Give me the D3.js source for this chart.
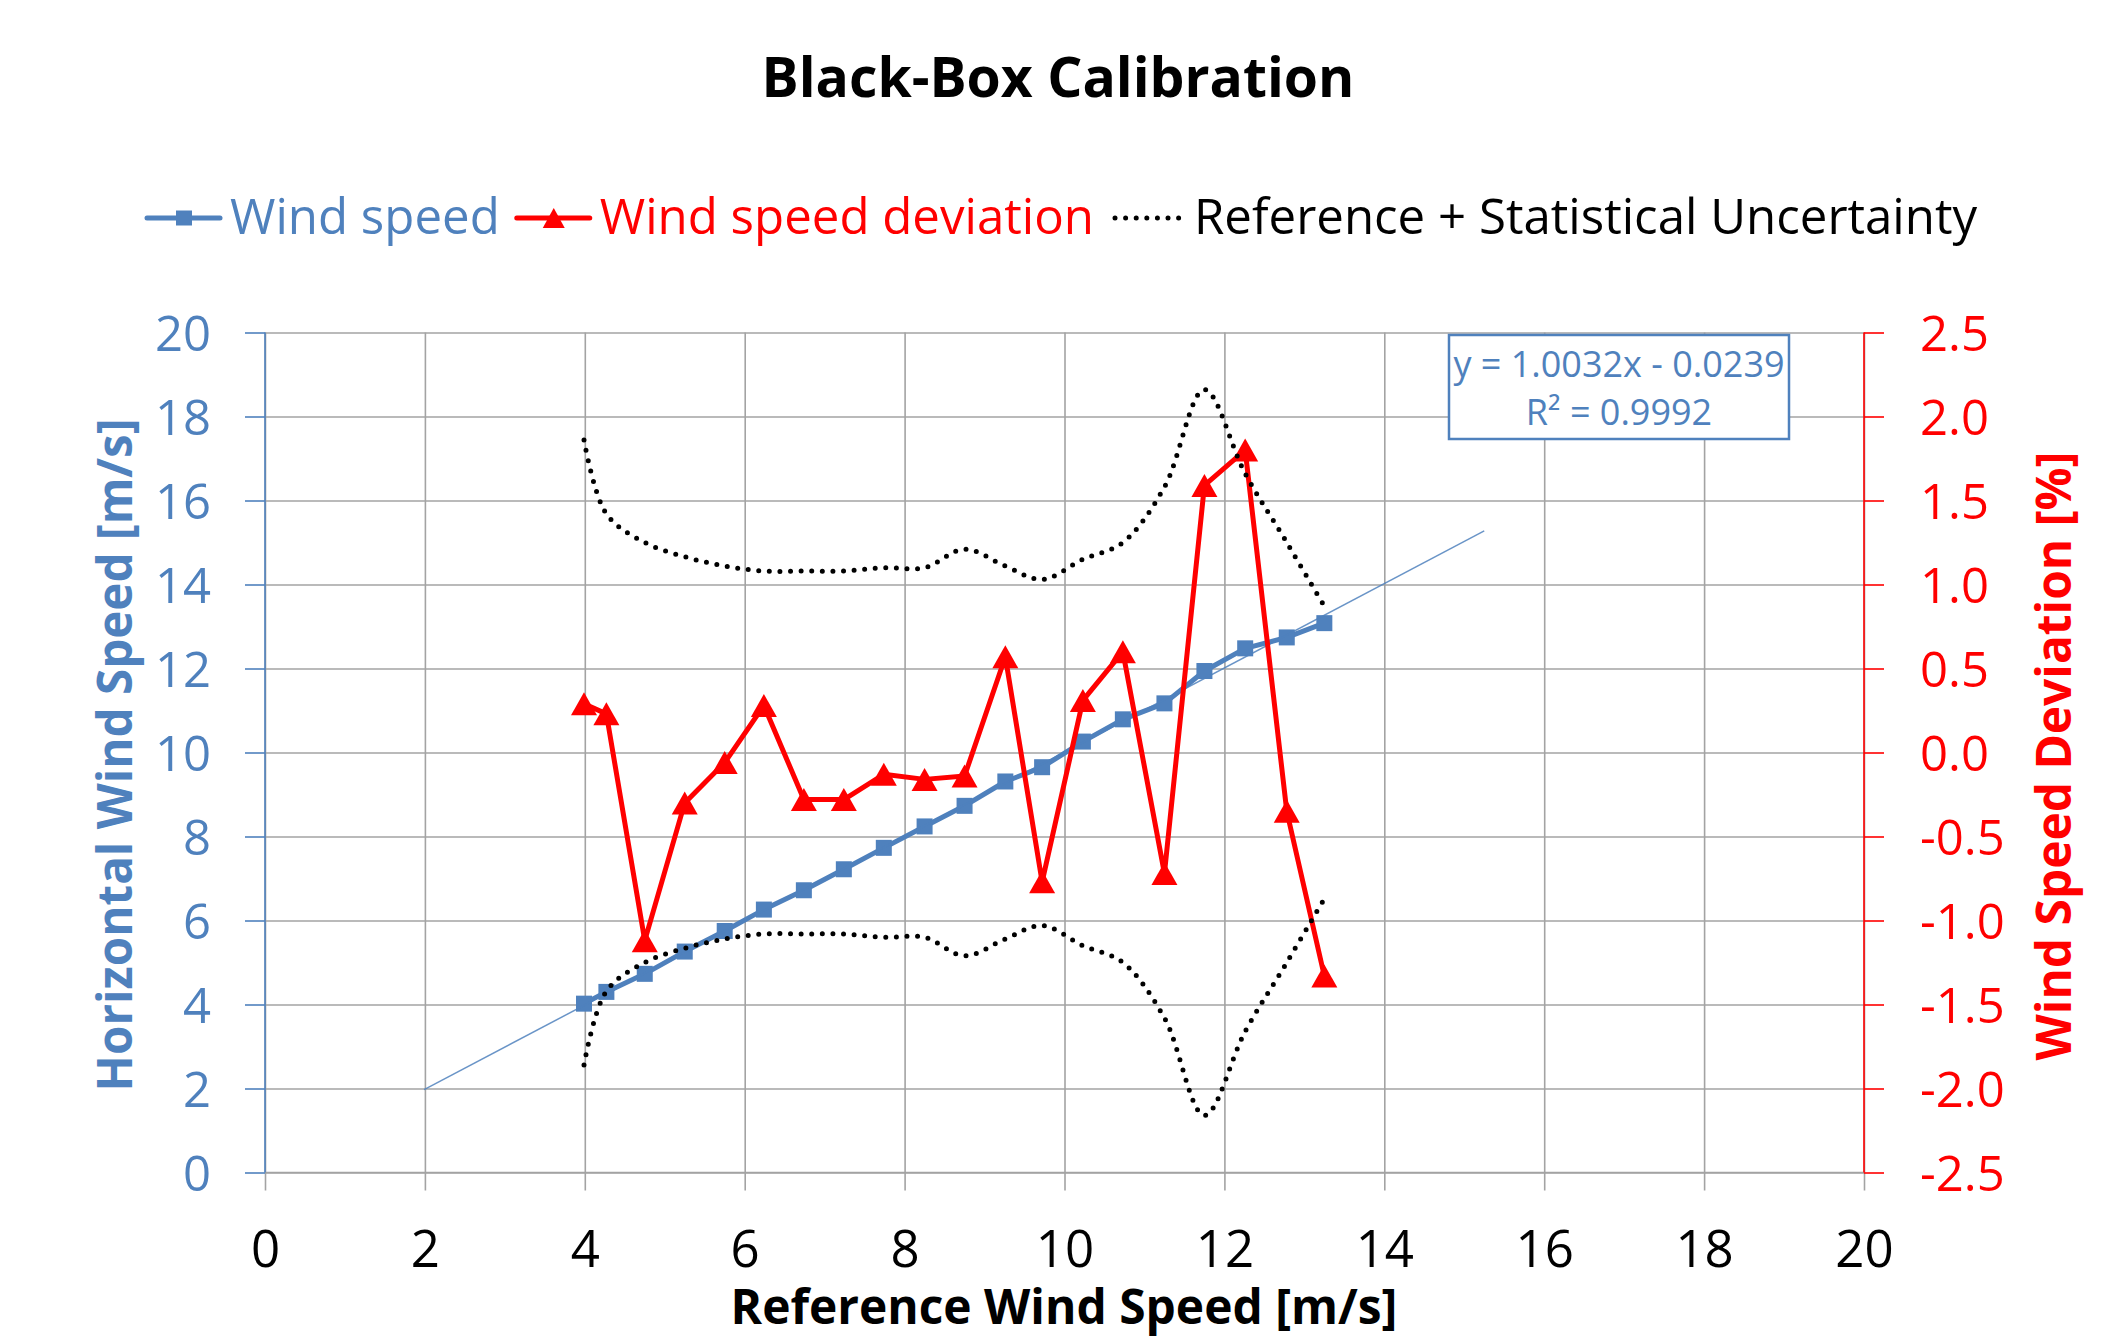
<!doctype html>
<html>
<head>
  <meta charset="utf-8">
  <script src="https://cdnjs.cloudflare.com/ajax/libs/d3/7.8.5/d3.min.js" type="text/JavaScript"></script>
  <style>
    body { margin: 0; background: #fff; }
    text { font-family: "Open Sans", sans-serif; }
  </style>
</head>
<body>
<svg height="1337" width="2118"></svg>
<script type="text/javascript">
// values
var refSpeed    = [3.99, 4.27, 4.75, 5.25, 5.75, 6.24, 6.74, 7.24, 7.74, 8.25, 8.75, 9.26, 9.72, 10.23, 10.73, 11.25, 11.75, 12.26, 12.78, 13.25];
var windSpeed   = [4.02, 4.30, 4.73, 5.26, 5.75, 6.26, 6.72, 7.22, 7.73, 8.24, 8.73, 9.31, 9.65, 10.26, 10.79, 11.17, 11.94, 12.48, 12.74, 13.08];
var deviation   = [0.29, 0.23, -1.12, -0.30, -0.06, 0.28, -0.28, -0.28, -0.13, -0.16, -0.14, 0.57, -0.77, 0.31, 0.60, -0.72, 1.59, 1.80, -0.35, -1.33];
var uncertainty = [1.86, 1.42, 1.25, 1.165, 1.11, 1.08, 1.08, 1.08, 1.10, 1.10, 1.21, 1.11, 1.03, 1.15, 1.25, 1.58, 2.16, 1.66, 1.25, 0.87];

var xTicks     = [0, 2, 4, 6, 8, 10, 12, 14, 16, 18, 20];
var leftTicks  = [0, 2, 4, 6, 8, 10, 12, 14, 16, 18, 20];
var rightTicks = [-2.5, -2.0, -1.5, -1.0, -0.5, 0.0, 0.5, 1.0, 1.5, 2.0, 2.5];

var trendSlope = 1.0032, trendIntercept = -0.0239, trendR2 = 0.9992, trendForecast = 2;

var legendLabels = ["Wind speed", "Wind speed deviation", "Reference + Statistical Uncertainty"];
var chartTitle = "Black-Box Calibration";
var xTitle = "Reference Wind Speed [m/s]";
var yLeftTitle = "Horizontal Wind Speed [m/s]";
var yRightTitle = "Wind Speed Deviation [%]";

var blue = "#4F81BD", red = "#FF0000", grid = "#A3A3A3";
var pLeft = 265, pRight = 1864, pTop = 332.5, pBottom = 1172.5;

var svg = d3.select("svg");
var x  = d3.scaleLinear().domain([0, 20]).range([pLeft, pRight]);
var yL = d3.scaleLinear().domain([0, 20]).range([pBottom, pTop]);
var yR = d3.scaleLinear().domain([-2.5, 2.5]).range([pBottom, pTop]);

var pts = refSpeed.map((r, i) => ({x: r, ws: windSpeed[i], dev: deviation[i], unc: uncertainty[i]}));

// plain hyphen minus like the original
var fmt1 = d => (d < 0 ? "-" : "") + Math.abs(d).toFixed(1);

function fitWidth(sel, target) {
  var w = sel.node().getComputedTextLength();
  var fs = parseFloat(sel.style("font-size"));
  sel.style("font-size", (fs * target / w) + "px");
}

// gridlines
svg.append("g")
   .attr("transform", "translate(" + pLeft + ",0)")
   .call(d3.axisLeft(yL).tickValues(leftTicks).tickSize(-(pRight - pLeft)).tickFormat(""))
   .call(g => g.select(".domain").remove())
   .selectAll("line").attr("stroke", grid).attr("stroke-width", 1.6);
svg.append("g")
   .attr("transform", "translate(0," + pBottom + ")")
   .call(d3.axisBottom(x).tickValues(xTicks).tickSize(-(pBottom - pTop)).tickFormat(""))
   .call(g => g.select(".domain").remove())
   .selectAll("line").attr("stroke", grid).attr("stroke-width", 1.6);

// bottom axis
var xa = svg.append("g")
   .attr("transform", "translate(0," + pBottom + ")")
   .call(d3.axisBottom(x).tickValues(xTicks).tickSize(18).tickPadding(40).tickFormat(d3.format("d")));
xa.select(".domain").attr("stroke", grid).attr("stroke-width", 1.6).attr("d", "M" + pLeft + ",0H" + pRight);
xa.selectAll("line").attr("stroke", grid).attr("stroke-width", 1.6);
xa.selectAll("text").attr("fill", "#000").style("font-size", "51px");

// left axis
var la = svg.append("g")
   .attr("transform", "translate(" + pLeft + ",0)")
   .call(d3.axisLeft(yL).tickValues(leftTicks).tickSize(20).tickPadding(34).tickFormat(d3.format("d")));
la.select(".domain").attr("stroke", blue).attr("stroke-width", 1.6).attr("d", "M0," + pTop + "V" + pBottom);
la.selectAll("line").attr("stroke", blue).attr("stroke-width", 1.6);
la.selectAll("text").attr("fill", blue).attr("dy", "0.36em").style("font-size", "49px");

// right axis
var ra = svg.append("g")
   .attr("transform", "translate(" + pRight + ",0)")
   .call(d3.axisRight(yR).tickValues(rightTicks).tickSize(20).tickPadding(36).tickFormat(fmt1));
ra.select(".domain").attr("stroke", red).attr("stroke-width", 1.6).attr("d", "M0," + pTop + "V" + pBottom);
ra.selectAll("line").attr("stroke", red).attr("stroke-width", 1.6);
ra.selectAll("text").attr("fill", red).attr("dy", "0.36em").style("font-size", "49px");

// wind speed series
svg.append("path").datum(pts)
   .attr("fill", "none").attr("stroke", blue).attr("stroke-width", 5).attr("stroke-linejoin", "round")
   .attr("d", d3.line().x(d => x(d.x)).y(d => yL(d.ws)));
svg.append("g").selectAll("rect").data(pts).enter().append("rect")
   .attr("x", d => x(d.x) - 8).attr("y", d => yL(d.ws) - 8)
   .attr("width", 16).attr("height", 16).attr("fill", blue);

// linear trendline
var tx = [d3.min(refSpeed) - trendForecast, d3.max(refSpeed) + trendForecast];
svg.append("path").datum(tx)
   .attr("fill", "none").attr("stroke", blue).attr("stroke-width", 1.5).attr("opacity", 0.85)
   .attr("d", d3.line().x(d => x(d)).y(d => yL(trendSlope * d + trendIntercept)));

// deviation series
function tri(cx, cy, w, h) {
  return "M" + cx + "," + (cy - h / 2) + "L" + (cx + w / 2) + "," + (cy + h / 2) + "L" + (cx - w / 2) + "," + (cy + h / 2) + "Z";
}
svg.append("path").datum(pts)
   .attr("fill", "none").attr("stroke", red).attr("stroke-width", 5).attr("stroke-linejoin", "round")
   .attr("d", d3.line().x(d => x(d.x)).y(d => yR(d.dev)));
svg.append("g").selectAll("path").data(pts).enter().append("path")
   .attr("d", d => tri(x(d.x), yR(d.dev), 26, 23)).attr("fill", red);

// uncertainty band (upper and lower)
var smooth = d3.line().curve(d3.curveCatmullRom.alpha(0.5)).x(d => x(d.x));
[1, -1].forEach(function(s) {
  svg.append("path").datum(pts)
     .attr("fill", "none").attr("stroke", "#000").attr("stroke-width", 5)
     .attr("stroke-linecap", "round").attr("stroke-dasharray", "0 10.6")
     .attr("d", smooth.y(d => yR(s * d.unc)));
});

// equation box
var eq = svg.append("g");
eq.append("rect").attr("x", 1449).attr("y", 335).attr("width", 340).attr("height", 104)
  .attr("fill", "#fff").attr("stroke", blue).attr("stroke-width", 2.5);
eq.append("text").attr("x", 1619).attr("y", 377).attr("text-anchor", "middle").attr("fill", blue)
  .style("font-size", "36px")
  .text("y = " + trendSlope.toFixed(4) + "x - " + Math.abs(trendIntercept).toFixed(4));
eq.append("text").attr("x", 1619).attr("y", 425).attr("text-anchor", "middle").attr("fill", blue)
  .style("font-size", "36px")
  .text("R\u00B2 = " + trendR2.toFixed(4));

// titles
var t = svg.append("text").attr("x", 1058).attr("y", 97).attr("text-anchor", "middle")
  .attr("font-weight", "bold").style("font-size", "56px").text(chartTitle);
fitWidth(t, 593);
var xt = svg.append("text").attr("x", 1064).attr("y", 1324).attr("text-anchor", "middle")
  .attr("font-weight", "bold").style("font-size", "54px").text(xTitle);
fitWidth(xt, 667);
var ylt = svg.append("text").attr("transform", "translate(132,755) rotate(-90)").attr("text-anchor", "middle")
  .attr("font-weight", "bold").attr("fill", blue).style("font-size", "54px").text(yLeftTitle);
fitWidth(ylt, 673);
var yrt = svg.append("text").attr("transform", "translate(2071,756) rotate(-90)").attr("text-anchor", "middle")
  .attr("font-weight", "bold").attr("fill", red).style("font-size", "54px").text(yRightTitle);
fitWidth(yrt, 609);

// legend
var legendColors = [blue, red, "#000"];
var lg = svg.append("g");
var lx = 147, ly = 218;
legendLabels.forEach(function(lab, i) {
  var line = lg.append("line").attr("x1", lx).attr("x2", lx + 73).attr("y1", ly).attr("y2", ly);
  if (i < 2) {
    line.attr("stroke", legendColors[i]).attr("stroke-width", 5).attr("stroke-linecap", "round");
    if (i == 0) lg.append("rect").attr("x", lx + 29).attr("y", ly - 7.5).attr("width", 16).attr("height", 15).attr("fill", blue);
    else lg.append("path").attr("d", tri(lx + 37, ly, 22, 20)).attr("fill", red);
  } else {
    line.attr("x1", lx + 4).attr("x2", lx + 70).attr("stroke", "#000").attr("stroke-width", 5)
        .attr("stroke-linecap", "round").attr("stroke-dasharray", "0 10.6");
  }
  var txt = lg.append("text").attr("x", lx + 83).attr("y", ly + 16).attr("fill", legendColors[i])
      .style("font-size", "49.2px").text(lab);
  lx = lx + 83 + txt.node().getComputedTextLength() + 17;
});
</script>
</body>
</html>
